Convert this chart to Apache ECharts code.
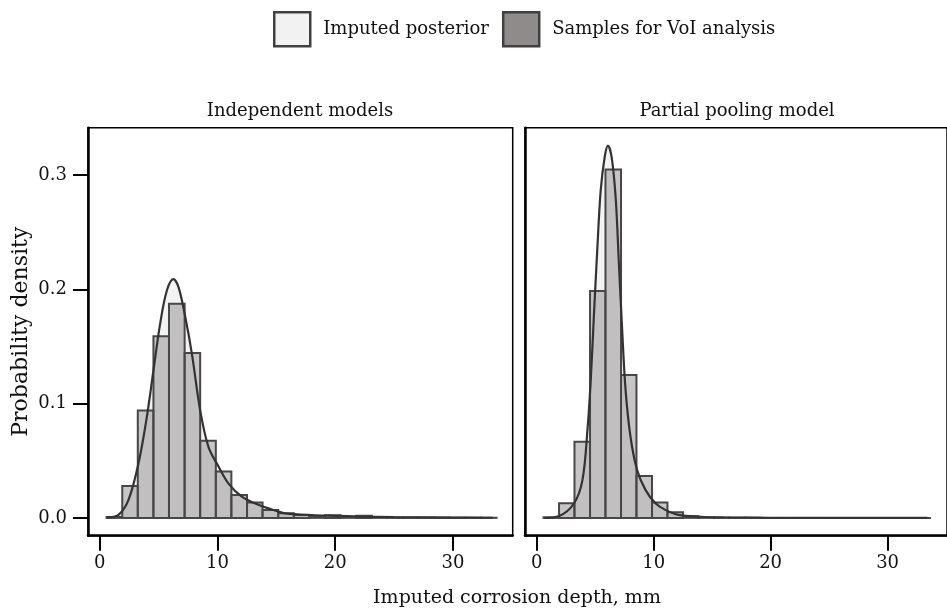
<!DOCTYPE html>
<html>
<head>
<meta charset="utf-8">
<script src="https://cdn.jsdelivr.net/npm/echarts@6/dist/echarts.min.js"></script>
<style>
  html, body { margin: 0; padding: 0; background: #ffffff; }
  #chart { width: 947px; height: 616px; }
</style>
</head>
<body>
<div id="chart"></div>
<script>
// ---------- data ----------
const panelTitles = ['Independent models', 'Partial pooling model'];
const legendNames = ['Imputed posterior', 'Samples for VoI analysis'];
const xTicks = [0, 10, 20, 30];
const yTicks = [0, 0.1, 0.2, 0.3];

// histogram bin edges (mm)
const binEdges = [0.58, 1.91, 3.23, 4.56, 5.88, 7.21, 8.53, 9.86, 11.18, 12.51, 13.83,
  15.16, 16.48, 17.81, 19.13, 20.46, 21.78, 23.11, 24.43, 25.76, 27.08, 28.41, 29.73,
  31.06, 32.38, 33.71];

// histogram densities
const histIndependent = [0.0008, 0.028, 0.094, 0.159, 0.1875, 0.1444, 0.0675, 0.0405,
  0.020, 0.0134, 0.007, 0.004, 0.0025, 0.0015, 0.0024, 0.001, 0.0018, 0.0005, 0.0003,
  0.0003, 0.0002, 0.0002, 0.0001, 0.0001, 0.0001];
const histPooled = [0.0005, 0.0128, 0.0667, 0.1985, 0.305, 0.125, 0.0367, 0.0134, 0.005,
  0.0015, 0.0005, 0.0002, 0.0001, 0.0001, 0, 0, 0, 0, 0, 0, 0, 0, 0, 0, 0];

// density curves
const densXIndependent = [0.6, 1.59, 2.44, 3.29, 4.0, 4.56, 5.13, 5.7, 6.25, 6.69, 7.26,
  7.82, 8.53, 9.24, 10.09, 10.94, 12.07, 13.48, 15.18, 15.75, 18, 20, 22, 25, 30, 33.4];
const densYIndependent = [0.0003, 0.0026, 0.0157, 0.0477, 0.0885, 0.129, 0.170, 0.199,
  0.209, 0.202, 0.176, 0.144, 0.094, 0.062, 0.045, 0.030, 0.0186, 0.0114, 0.0055, 0.004,
  0.0025, 0.0018, 0.0012, 0.0006, 0.0002, 0.0001];
const densXPooled = [0.65, 1.93, 3.2, 3.91, 4.34, 4.62, 4.9, 5.19, 5.47, 5.81, 6.09, 6.41,
  6.75, 7.03, 7.31, 7.6, 8.02, 8.58, 9.3, 10.15, 11.0, 12.13, 14, 16, 20, 33.4];
const densYPooled = [0, 0.0017, 0.0128, 0.033, 0.077, 0.1205, 0.179, 0.237, 0.2865,
  0.3156, 0.3258, 0.3156, 0.2806, 0.2224, 0.164, 0.1118, 0.071, 0.042, 0.0245, 0.0128,
  0.007, 0.0026, 0.001, 0.0004, 0.0001, 0];

// ---------- chart ----------
const FONT = '"DejaVu Serif", "Liberation Serif", serif';
const chart = echarts.init(document.getElementById('chart'), null, { renderer: 'canvas' });

const panels = [
  { hist: histIndependent, dx: densXIndependent, dy: densYIndependent },
  { hist: histPooled, dx: densXPooled, dy: densYPooled }
];
const gridLefts = [88, 525];
const gridW = 424.7, gridTop = 127.7, gridH = 408;
const X_MIN = -1.0, X_MAX = 35.08, Y_MIN = -0.0156, Y_MAX = 0.3415;

function renderBar(params, api) {
  const p0 = api.coord([api.value(0), 0]);
  const p1 = api.coord([api.value(1), api.value(2)]);
  return {
    type: 'rect',
    shape: { x: p0[0], y: p1[1], width: p1[0] - p0[0], height: p0[1] - p1[1] },
    style: { fill: 'rgba(143,139,139,0.5)', stroke: '#474747', lineWidth: 2 }
  };
}

const grids = [], xAxes = [], yAxes = [], series = [];
panels.forEach((p, i) => {
  grids.push({ left: gridLefts[i], top: gridTop, width: gridW, height: gridH,
    show: true, borderColor: '#000', borderWidth: 1.5, backgroundColor: 'transparent' });
  xAxes.push({
    type: 'value', gridIndex: i, min: X_MIN, max: X_MAX,
    axisLine: { show: true, onZero: false, lineStyle: { color: '#000', width: 2.5 } },
    axisTick: { show: true, customValues: xTicks, length: 15, lineStyle: { color: '#000', width: 2 } },
    axisLabel: { customValues: xTicks, margin: 19, fontFamily: FONT, fontSize: 18, color: '#111' },
    splitLine: { show: false }
  });
  const y = {
    type: 'value', gridIndex: i, min: Y_MIN, max: Y_MAX,
    axisLine: { show: true, onZero: false, lineStyle: { color: '#000', width: 2.5 } },
    axisTick: { show: i === 0, customValues: yTicks, length: 15, lineStyle: { color: '#000', width: 2 } },
    axisLabel: { show: i === 0, customValues: yTicks, margin: 21, fontFamily: FONT, fontSize: 18,
      color: '#111', formatter: v => v.toFixed(1) },
    splitLine: { show: false }
  };
  if (i === 0) {
    y.name = 'Probability density';
    y.nameLocation = 'middle';
    y.nameRotate = 90;
    y.nameGap = 56;
    y.nameTextStyle = { fontFamily: FONT, fontSize: 22, color: '#111' };
  }
  yAxes.push(y);

  const curve = p.dx.map((x, k) => [x, p.dy[k]]);
  series.push({
    type: 'line', name: legendNames[0], xAxisIndex: i, yAxisIndex: i, data: curve,
    symbol: 'none', smooth: 0.35, silent: true,
    lineStyle: { width: 0, color: '#f3f3f3' }, itemStyle: { color: '#f3f3f3' },
    areaStyle: { color: '#f3f3f3', opacity: 1 }, z: 1
  });
  series.push({
    type: 'custom', name: legendNames[1], xAxisIndex: i, yAxisIndex: i, silent: true,
    renderItem: renderBar, encode: { x: [0, 1], y: 2 },
    itemStyle: { color: '#8f8b8b' },
    data: p.hist.map((h, k) => [binEdges[k], binEdges[k + 1], h]), z: 2
  });
  series.push({
    type: 'line', name: 'density curve', xAxisIndex: i, yAxisIndex: i, data: curve,
    symbol: 'none', smooth: 0.35, silent: true,
    lineStyle: { width: 2.2, color: '#333333' }, itemStyle: { color: '#333333' }, z: 3
  });
});

chart.setOption({
  animation: false,
  backgroundColor: '#ffffff',
  title: [
    { text: panelTitles[0], left: 295, top: 97, textAlign: 'center',
      textStyle: { fontFamily: FONT, fontSize: 18, fontWeight: 'normal', color: '#111' } },
    { text: panelTitles[1], left: 732, top: 97, textAlign: 'center',
      textStyle: { fontFamily: FONT, fontSize: 18, fontWeight: 'normal', color: '#111' } },
    { text: 'Imputed corrosion depth, mm', left: 512, top: 584, textAlign: 'center',
      textStyle: { fontFamily: FONT, fontSize: 19, fontWeight: 'normal', color: '#111' } }
  ],
  legend: {
    left: 268, top: 6, itemWidth: 36, itemHeight: 34, itemGap: 13, icon: 'rect',
    selectedMode: false,
    textStyle: { fontFamily: FONT, fontSize: 18, color: '#111', padding: [0, 0, 0, 8] },
    data: [
      { name: legendNames[0], icon: 'rect',
        itemStyle: { color: '#f2f2f2', borderColor: '#404040', borderWidth: 2.5 } },
      { name: legendNames[1], icon: 'rect',
        itemStyle: { color: '#8f8b8b', borderColor: '#404040', borderWidth: 2.5 } }
    ]
  },
  grid: grids,
  xAxis: xAxes,
  yAxis: yAxes,
  series: series
});
</script>
</body>
</html>
